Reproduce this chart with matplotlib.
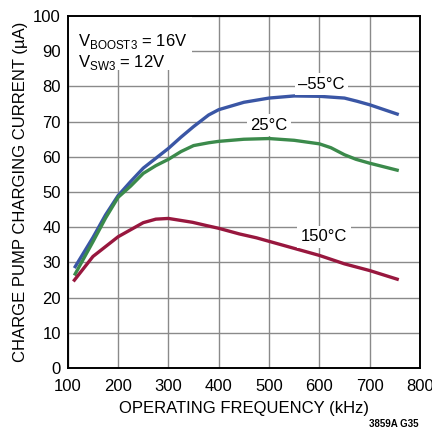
import matplotlib
matplotlib.use("Agg")
import matplotlib.pyplot as plt

plt.rcParams["font.family"] = ["Liberation Sans", "DejaVu Sans"]

# Data
freq_m55 = [113, 150, 175, 200, 225, 250, 275, 300, 325, 350, 380, 400, 450, 500,
            550, 600, 650, 675, 700, 758]
cur_m55 = [28.4, 37.1, 43.5, 49.0, 53.0, 56.8, 59.6, 62.4, 65.6, 68.6, 71.9, 73.4, 75.5, 76.7,
           77.3, 77.2, 76.7, 75.8, 74.8, 72.0]

freq_25 = [113, 150, 175, 200, 225, 250, 275, 300, 325, 350, 380, 400, 450, 500,
           550, 600, 623, 650, 673, 700, 758]
cur_25 = [26.3, 35.9, 42.6, 48.5, 51.7, 55.3, 57.5, 59.3, 61.5, 63.2, 64.0, 64.4, 65.0, 65.2,
          64.7, 63.7, 62.6, 60.6, 59.3, 58.2, 56.1]

freq_150 = [111, 150, 200, 250, 275, 300, 348, 375, 400, 441, 475, 500, 550, 600,
            650, 700, 758]
cur_150 = [24.6, 31.7, 37.3, 41.3, 42.3, 42.5, 41.4, 40.5, 39.7, 38.1, 37.0, 36.0, 34.0, 32.0,
           29.6, 27.7, 25.1]

series = [
    (freq_m55, cur_m55, "#3a56a5", "\u201355\u00b0C", 604, 80.6),
    (freq_25, cur_25, "#3b8a4b", "25\u00b0C", 500, 69.0),
    (freq_150, cur_150, "#98173e", "150\u00b0C", 609, 37.3),
]

fig = plt.figure(figsize=(4.32, 4.34), dpi=100)
ax = fig.add_axes([0.157, 0.152, 0.815, 0.811])

for x, y, color, label, lx, ly in series:
    ax.plot(x, y, color=color, linewidth=2.4, solid_joinstyle="round",
            solid_capstyle="butt", zorder=3)
    ax.text(lx, ly, label, ha="center", va="center", fontsize=12,
            bbox=dict(facecolor="white", edgecolor="none", pad=2.5), zorder=4)

ax.set_xlim(100, 800)
ax.set_ylim(0, 100)
ax.set_xticks(range(100, 801, 100))
ax.set_yticks(range(0, 101, 10))
ax.grid(True, color="#8a8a8a", linewidth=1.0, zorder=1)
ax.tick_params(length=0, labelsize=12)
ax.tick_params(axis="x", pad=8)
ax.tick_params(axis="y", pad=5)
for s in ax.spines.values():
    s.set_linewidth(1.4)
    s.set_color("black")

# white box behind the conditions text
ax.fill_between([100, 346], 84.6, 100, color="white", zorder=2, linewidth=0)
ax.text(0.03, 0.955, "V$_{\\mathregular{BOOST3}}$ = 16V", transform=ax.transAxes,
        fontsize=12, va="top", ha="left", zorder=5)
ax.text(0.03, 0.895, "V$_{\\mathregular{SW3}}$ = 12V", transform=ax.transAxes,
        fontsize=12, va="top", ha="left", zorder=5)

ax.set_xlabel("OPERATING FREQUENCY (kHz)", fontsize=12, labelpad=5)
ax.set_ylabel("CHARGE PUMP CHARGING CURRENT (\u00b5A)", fontsize=12, labelpad=4)

fig.text(0.968, 0.012, "3859A G35", ha="right", va="bottom", fontsize=7, fontweight="bold")

fig.savefig("out.png", dpi=100)
